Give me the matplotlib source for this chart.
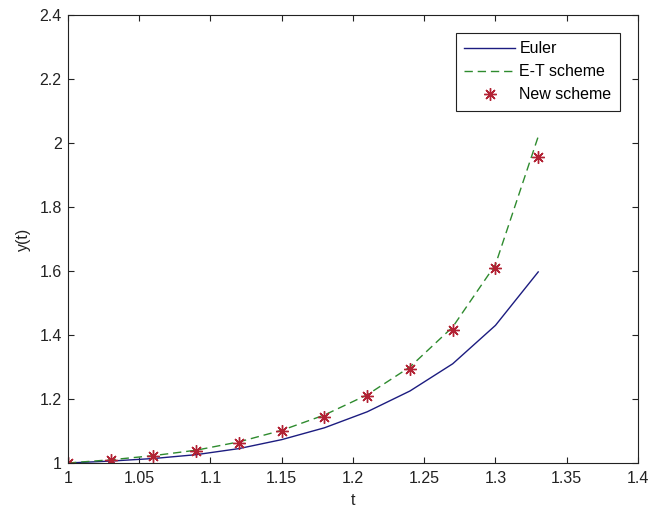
import numpy as np
import matplotlib
matplotlib.use("Agg")
import matplotlib.pyplot as plt

plt.rcParams['font.family'] = ['Liberation Sans', 'DejaVu Sans']

# values
t = [1.00, 1.03, 1.06, 1.09, 1.12, 1.15, 1.18, 1.21, 1.24, 1.27, 1.30, 1.33]
euler = [1.000, 1.006, 1.014, 1.026, 1.045, 1.073, 1.110, 1.160, 1.225, 1.310, 1.430, 1.597]
et_scheme = [1.000, 1.010, 1.023, 1.040, 1.066, 1.102, 1.150, 1.213, 1.300, 1.425, 1.620, 2.020]
new_scheme = [1.000, 1.010, 1.022, 1.039, 1.064, 1.100, 1.145, 1.208, 1.295, 1.415, 1.610, 1.955]

xticks = [1, 1.05, 1.1, 1.15, 1.2, 1.25, 1.3, 1.35, 1.4]
xticklabels = ['1', '1.05', '1.1', '1.15', '1.2', '1.25', '1.3', '1.35', '1.4']
yticks = [1, 1.2, 1.4, 1.6, 1.8, 2, 2.2, 2.4]
yticklabels = ['1', '1.2', '1.4', '1.6', '1.8', '2', '2.2', '2.4']

fig = plt.figure(figsize=(6.6, 5.08), dpi=100)
ax = fig.add_axes([0.103, 0.0886, 0.8636, 0.882])

ax.plot(t, euler, '-', color='#1c1c80', lw=1.0, label='Euler')
ax.plot(t, et_scheme, '--', color='#2e8b2e', lw=1.0, dashes=(6, 3.5), label='E-T scheme')
ax.plot(t, new_scheme, marker=(8, 2, 0), color='#b22234', ms=9, mew=1.0,
        linestyle='none', label='New scheme')

ax.set_xlim(1, 1.4)
ax.set_ylim(1, 2.4)
ax.set_xticks(xticks)
ax.set_xticklabels(xticklabels)
ax.set_yticks(yticks)
ax.set_yticklabels(yticklabels)
ax.tick_params(direction='in', top=True, right=True, labelsize=11.5, length=4.5,
               colors='#222222', labelcolor='#222222')
ax.tick_params(axis='x', pad=6)
ax.tick_params(axis='y', pad=4.5)
for s in ax.spines.values():
    s.set_color('#222222')
    s.set_linewidth(0.8)

ax.set_xlabel('t', fontsize=11.5, labelpad=5, color='#222222')
ax.set_ylabel('y(t)', fontsize=11.5, labelpad=6, color='#222222')

leg = ax.legend(loc='upper right', bbox_to_anchor=(1, 1), borderaxespad=1.1,
                fontsize=11.5, fancybox=False, framealpha=1, edgecolor='#222222',
                handlelength=3.2, handletextpad=0.25, borderpad=0.55, labelspacing=0.5)
leg.get_frame().set_linewidth(0.8)

fig.savefig('out.png', dpi=100)
